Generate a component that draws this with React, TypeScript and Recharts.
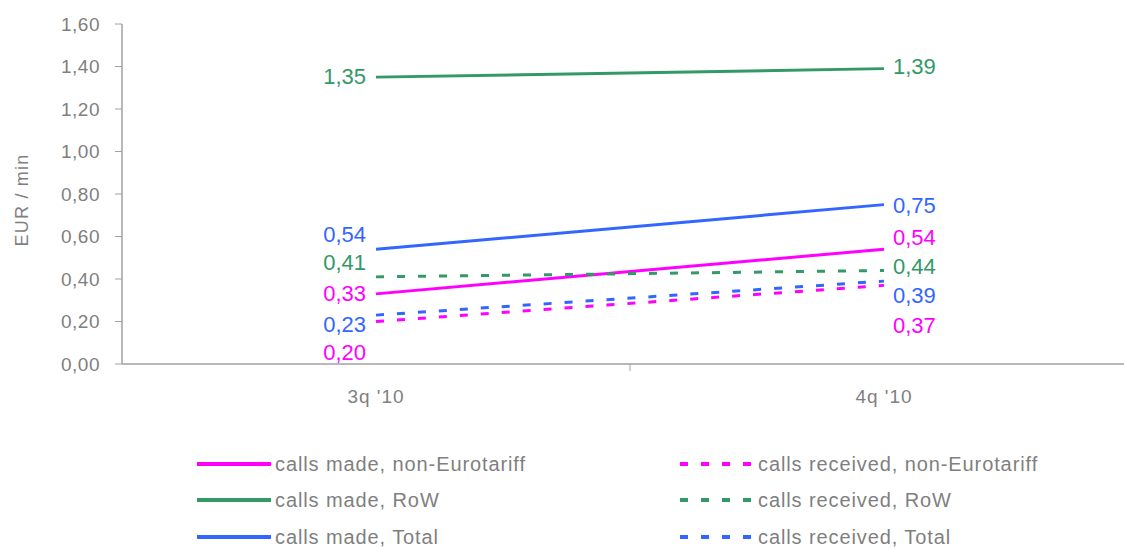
import React from 'react';
import { LineChart, Line, XAxis, YAxis, LabelList, Label } from 'recharts';

const categories = ["3q '10", "4q '10"];
const madeNonEuro = [0.33, 0.54];
const madeRoW = [1.35, 1.39];
const madeTotal = [0.54, 0.75];
const recvNonEuro = [0.2, 0.37];
const recvRoW = [0.41, 0.44];
const recvTotal = [0.23, 0.39];
const yTicks = [0, 0.2, 0.4, 0.6, 0.8, 1.0, 1.2, 1.4, 1.6];

const MAGENTA = '#FF00FF';
const GREEN = '#339966';
const BLUE = '#3366FF';
const TEXT = '#7f7f7f';
const AXIS = '#a0a0a0';
const FONT = "Arial, 'Liberation Sans', sans-serif";
const DASH = '8 13';

type Series = {
  key: string;
  name: string;
  values: number[];
  color: string;
  dashed: boolean;
  dy: number[];
};

const series: Series[] = [
  { key: 'madeNonEuro', name: 'calls made, non-Eurotariff', values: madeNonEuro, color: MAGENTA, dashed: false, dy: [0, -12] },
  { key: 'madeRoW', name: 'calls made, RoW', values: madeRoW, color: GREEN, dashed: false, dy: [-1, -2] },
  { key: 'madeTotal', name: 'calls made, Total', values: madeTotal, color: BLUE, dashed: false, dy: [-15, 1] },
  { key: 'recvNonEuro', name: 'calls received, non-Eurotariff', values: recvNonEuro, color: MAGENTA, dashed: true, dy: [31, 40] },
  { key: 'recvRoW', name: 'calls received, RoW', values: recvRoW, color: GREEN, dashed: true, dy: [-14, -4] },
  { key: 'recvTotal', name: 'calls received, Total', values: recvTotal, color: BLUE, dashed: true, dy: [9, 14] },
];

const data = categories.map((c, i) => {
  const row: Record<string, number | string> = { x: i + 0.5, cat: c };
  series.forEach((s) => {
    row[s.key] = s.values[i];
  });
  return row;
});

const fmt = (v: number) => v.toFixed(2).replace('.', ',');

const makeLabel = (s: Series) => (props: any) => {
  const vx = props.x ?? props.viewBox?.x;
  const vy = props.y ?? props.viewBox?.y;
  const idx = props.index ?? 0;
  if (vx == null || vy == null) return null;
  const left = idx === 0;
  return (
    <text
      x={left ? vx - 10 : vx + 9}
      y={vy + s.dy[idx]}
      textAnchor={left ? 'end' : 'start'}
      dominantBaseline="central"
      fill={s.color}
      fontSize={22}
      fontFamily={FONT}
    >
      {fmt(Number(props.value))}
    </text>
  );
};

const XTick = (props: any) => {
  const { x, y, payload } = props;
  const v = Number(payload.value);
  if (Math.abs(v - 1) < 1e-6) {
    return <line x1={x} x2={x} y1={y} y2={y + 7} stroke={AXIS} strokeWidth={1} />;
  }
  const idx = Math.round(v - 0.5);
  return (
    <text
      x={x}
      y={y + 32}
      textAnchor="middle"
      dominantBaseline="central"
      fill={TEXT}
      fontSize={19}
      fontFamily={FONT}
      style={{ letterSpacing: '1px' }}
    >
      {categories[idx]}
    </text>
  );
};

const YTick = (props: any) => {
  const { x, y, payload } = props;
  return (
    <text
      x={x}
      y={y}
      textAnchor="end"
      dominantBaseline="central"
      fill={TEXT}
      fontSize={19}
      fontFamily={FONT}
      style={{ letterSpacing: '0.5px' }}
    >
      {fmt(Number(payload.value))}
    </text>
  );
};

const renderYLabel = (props: any) => {
  const vb = props.viewBox || {};
  const cy = vb.y != null && vb.height != null ? vb.y + vb.height / 2 + 6 : 200;
  const cx = 22;
  return (
    <text
      x={cx}
      y={cy}
      transform={`rotate(-90 ${cx} ${cy})`}
      textAnchor="middle"
      dominantBaseline="central"
      fill={TEXT}
      fontSize={18}
      fontFamily={FONT}
      style={{ letterSpacing: '1.2px' }}
    >
      EUR / min
    </text>
  );
};

const legendRows = [464, 500, 537];

const LegendItem = ({ s, left, top }: { s: Series; left: number; top: number }) => (
  <div
    style={{
      position: 'absolute',
      left,
      top: top - 12,
      height: 24,
      display: 'flex',
      alignItems: 'center',
      whiteSpace: 'nowrap',
    }}
  >
    <svg width={76} height={24} style={{ display: 'block' }}>
      <line
        x1={0}
        x2={74}
        y1={12}
        y2={12}
        stroke={s.color}
        strokeWidth={4}
        strokeDasharray={s.dashed ? '8 13' : undefined}
      />
    </svg>
    <span
      style={{
        color: TEXT,
        fontSize: 20,
        fontFamily: FONT,
        letterSpacing: '0.9px',
        marginLeft: 2,
      }}
    >
      {s.name}
    </span>
  </div>
);

export default function App() {
  const solid = series.filter((s) => !s.dashed);
  const dashed = series.filter((s) => s.dashed);
  return (
    <div
      style={{
        position: 'fixed',
        top: 0,
        left: 0,
        width: 1124,
        height: 548,
        overflow: 'hidden',
        background: '#fff',
      }}
    >
      <LineChart
        width={1140}
        height={548}
        data={data}
        margin={{ top: 24, right: 2, bottom: 154, left: 0 }}
      >
        <XAxis
          dataKey="x"
          type="number"
          domain={[0, 2]}
          ticks={[0.5, 1, 1.5]}
          interval={0}
          tickLine={false}
          tickSize={0}
          tickMargin={0}
          height={30}
          axisLine={{ stroke: AXIS, strokeWidth: 1.5 }}
          tick={<XTick />}
        />
        <YAxis
          type="number"
          domain={[0, 1.6]}
          ticks={yTicks}
          interval={0}
          width={122}
          tickSize={7}
          tickMargin={15}
          tickLine={{ stroke: AXIS }}
          axisLine={{ stroke: AXIS, strokeWidth: 1.5 }}
          tick={<YTick />}
          label={<Label content={renderYLabel} />}
        />
        {series.map((s) => (
          <Line
            key={s.key}
            dataKey={s.key}
            name={s.name}
            stroke={s.color}
            strokeWidth={3}
            strokeDasharray={s.dashed ? DASH : undefined}
            dot={false}
            activeDot={false}
            isAnimationActive={false}
          >
            <LabelList dataKey={s.key} content={makeLabel(s)} />
          </Line>
        ))}
      </LineChart>
      {solid.map((s, i) => (
        <LegendItem key={s.key} s={s} left={197} top={legendRows[i]} />
      ))}
      {dashed.map((s, i) => (
        <LegendItem key={s.key} s={s} left={680} top={legendRows[i]} />
      ))}
    </div>
  );
}
